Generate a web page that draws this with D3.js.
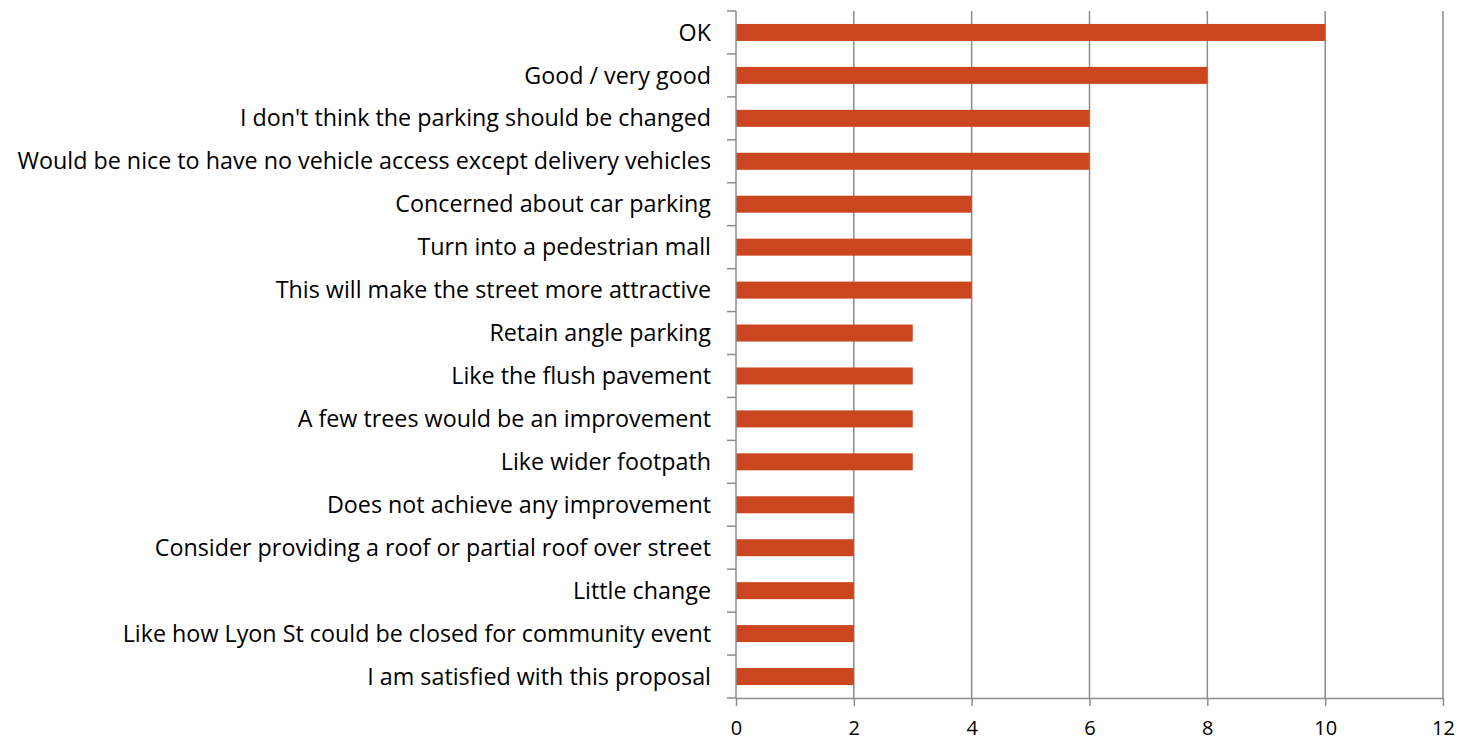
<!DOCTYPE html>
<html><head><meta charset="utf-8">
<script src="https://cdn.jsdelivr.net/npm/d3@7"></script>
<style>body{margin:0;background:#fff;}svg{display:block;}</style>
</head><body>
<svg id="c" width="1457" height="742"></svg>
<script>
const categories = ["OK","Good / very good","I don't think the parking should be changed","Would be nice to have no vehicle access except delivery vehicles","Concerned about car parking","Turn into a pedestrian mall","This will make the street more attractive","Retain angle parking","Like the flush pavement","A few trees would be an improvement","Like wider footpath","Does not achieve any improvement","Consider providing a roof or partial roof over street","Little change","Like how Lyon St could be closed for community event","I am satisfied with this proposal"];
const values = [10,8,6,6,4,4,4,3,3,3,3,2,2,2,2,2];
const xTicks = [0,2,4,6,8,10,12];

const svg = d3.select("#c");
const L = 736, R = 1443, T = 11, B = 698;
const font = "'Open Sans', sans-serif";
const fs = 23.3;
const x = d3.scaleLinear().domain([0,12]).range([L,R]);
const yb = d3.scaleBand().domain(categories).range([T,B]);
const grid = "#8c8c8c";

// gridlines
svg.append("g").selectAll("line").data(xTicks.filter(d=>d>0)).join("line")
  .attr("x1",d=>x(d)).attr("x2",d=>x(d)).attr("y1",T).attr("y2",B)
  .attr("stroke",grid).attr("stroke-width",1.5);

// bars
svg.append("g").selectAll("rect").data(categories).join("rect")
  .attr("x",x(0)).attr("y",d=>yb(d)+yb.bandwidth()/2-8.5)
  .attr("width",(d,i)=>x(values[i])-x(0)).attr("height",17)
  .attr("fill","#CB461E");

// x axis
const xa = svg.append("g").attr("transform",`translate(0,${B})`)
  .call(d3.axisBottom(x).tickValues(xTicks).tickSize(8).tickPadding(22).tickSizeOuter(0));
xa.select(".domain").attr("stroke",grid).attr("stroke-width",1.5).attr("d",`M${L},0.5H${R}`);
xa.selectAll(".tick line").attr("stroke",grid).attr("stroke-width",1.5);
xa.selectAll("text").attr("font-family",font).attr("font-size",20).attr("fill","#000").attr("dy","0.35em");

// y axis line and ticks between categories
svg.append("line").attr("x1",L).attr("x2",L).attr("y1",T).attr("y2",B).attr("stroke",grid).attr("stroke-width",1.5);
const bounds = categories.map(c=>yb(c)).concat([B]);
svg.append("g").selectAll("line").data(bounds).join("line")
  .attr("x1",L-9).attr("x2",L).attr("y1",d=>d).attr("y2",d=>d)
  .attr("stroke",grid).attr("stroke-width",1.5);

// labels
svg.append("g").selectAll("text").data(categories).join("text")
  .attr("x",L-25).attr("y",d=>yb(d)+yb.bandwidth()/2)
  .attr("dy","0.35em").attr("text-anchor","end")
  .attr("font-family",font).attr("font-size",fs).attr("fill","#000")
  .text(d=>d);
</script>
</body></html>
